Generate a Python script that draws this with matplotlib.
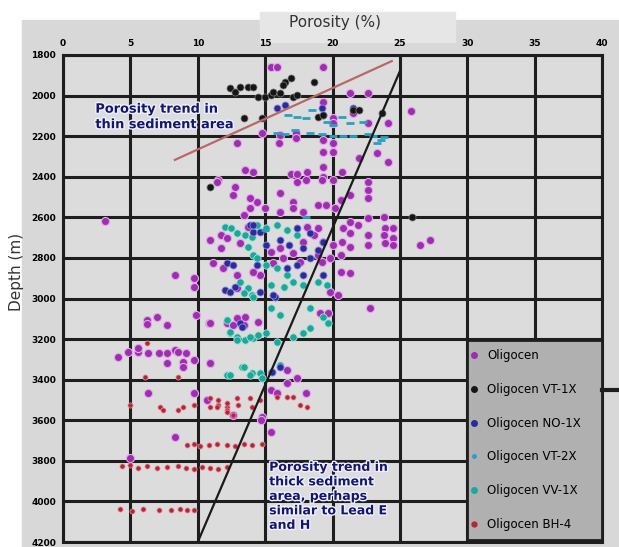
import matplotlib.pyplot as plt
import matplotlib.patheffects as pe
from matplotlib.lines import Line2D
from matplotlib.patches import Rectangle

# porosity (%) / depth (m) pairs
oligocen = [
    (15.4, 1859), (15.9, 1859), (19.3, 1859), (21.3, 1987), (22.6, 1987), (19.3, 2031),
    (20.0, 2110), (20.0, 2135), (21.5, 2086), (22.6, 2135), (24.1, 2135), (25.8, 2076),
    (14.8, 2184), (16.1, 2194), (16.0, 2233), (17.3, 2184), (17.3, 2209), (19.3, 2219),
    (20.0, 2233), (19.3, 2278), (20.0, 2278), (12.9, 2233), (22.0, 2307), (23.3, 2283),
    (24.1, 2327), (19.3, 2352), (13.5, 2367), (14.1, 2376), (16.9, 2386), (17.4, 2386),
    (18.1, 2376), (19.3, 2401), (20.7, 2376), (11.5, 2416),
    (16.1, 2480), (17.4, 2426), (18.0, 2416), (19.2, 2416), (20.0, 2416), (22.6, 2426),
    (22.6, 2465), (22.6, 2504), (20.6, 2514), (21.3, 2490), (18.9, 2539), (19.5, 2539),
    (20.2, 2554), (14.4, 2524), (15.0, 2554), (16.1, 2573), (17.1, 2524), (17.1, 2554),
    (17.8, 2573), (21.3, 2622), (21.9, 2637), (22.6, 2603), (23.8, 2598), (23.9, 2652),
    (24.5, 2652), (23.8, 2687), (24.5, 2701), (22.6, 2687), (22.6, 2736), (23.9, 2726),
    (24.5, 2736), (26.5, 2736), (27.2, 2711),
    (20.8, 2652), (21.3, 2677), (20.7, 2721), (21.3, 2746), (20.6, 2785), (20.0, 2736),
    (19.3, 2721), (18.6, 2687), (18.1, 2647), (18.9, 2652), (17.8, 2721), (15.4, 2770),
    (16.1, 2751), (16.3, 2800), (15.6, 2824), (17.1, 2775), (17.6, 2820), (18.9, 2785),
    (19.2, 2820), (19.8, 2800), (20.6, 2869), (21.3, 2874), (14.1, 2869), (14.6, 2884),
    (19.8, 2967), (20.4, 2982),
    (11.4, 2426), (12.8, 2450), (12.6, 2490), (13.9, 2504), (13.9, 2554), (13.4, 2588),
    (13.7, 2647), (3.1, 2618), (10.9, 2711), (11.7, 2687), (12.2, 2701), (11.7, 2751),
    (13.1, 2726), (11.1, 2824), (11.9, 2849), (12.9, 2884), (14.1, 2869), (8.3, 2884),
    (9.7, 2898), (9.7, 2943), (12.9, 2948),
    (6.2, 3105), (7.0, 3090), (7.7, 3130), (6.2, 3125), (9.9, 3081), (10.8, 3120),
    (12.2, 3120), (12.6, 3130), (13.3, 3115), (13.5, 3090), (4.1, 3288), (4.8, 3263),
    (5.6, 3263), (6.3, 3268), (7.1, 3268), (7.7, 3268), (8.3, 3253), (8.5, 3263),
    (9.1, 3268), (5.6, 3243), (7.7, 3317), (8.9, 3312), (8.9, 3337), (9.7, 3302),
    (10.9, 3317), (6.3, 3465), (9.7, 3465), (12.6, 3574),
    (10.9, 3120), (13.4, 3130), (12.9, 3095), (14.5, 3115), (19.1, 3071), (19.7, 3071),
    (22.8, 3046), (10.9, 3317), (16.6, 3352), (17.4, 3391), (16.6, 3416), (15.4, 3450),
    (15.9, 3465), (18.0, 3465), (10.7, 3500), (14.8, 3583), (14.7, 3598), (15.4, 3657),
    (8.3, 3682), (5.0, 3785),
]
vt1x = [
    (12.4, 1963), (12.8, 1982), (13.1, 1958), (13.7, 1958), (14.1, 1958), (14.5, 2007),
    (15.0, 2007), (15.4, 1997), (15.6, 1982), (16.1, 1987), (16.5, 1933), (16.9, 1913),
    (16.3, 1948), (17.1, 2007), (17.4, 1997), (18.6, 1933), (13.4, 2110), (14.8, 2110),
    (18.9, 2105), (19.3, 2096), (21.5, 2071), (23.7, 2086), (22.0, 2071), (25.9, 2598),
    (10.9, 2450),
]
no1x = [
    (15.9, 2061), (16.5, 2046), (19.2, 2061), (19.3, 2096), (21.5, 2061),
    (13.9, 2637), (14.1, 2672), (12.2, 2824), (12.6, 2834), (12.0, 2957), (12.4, 2967),
    (12.8, 2943), (14.1, 2637), (14.6, 2672), (16.1, 2711), (17.4, 2652), (18.3, 2677),
    (19.3, 2721), (15.1, 2736), (16.8, 2736), (17.8, 2751), (18.9, 2760), (14.4, 2834),
    (17.4, 2834), (18.3, 2800), (16.6, 2849), (17.8, 2884), (19.3, 2884), (14.6, 2967),
    (13.1, 3120), (13.3, 3140), (15.7, 2992), (15.6, 2982), (16.1, 3337), (15.5, 3361),
]
vt2x = [
    (16.7, 2096), (17.4, 2105), (18.0, 2110), (18.5, 2071), (19.6, 2130), (20.0, 2145),
    (20.7, 2105), (21.3, 2135), (22.3, 2130), (15.9, 2184), (16.5, 2189), (17.2, 2169),
    (18.3, 2184), (19.2, 2189), (20.0, 2199), (20.8, 2199), (21.5, 2199), (22.6, 2189),
    (23.0, 2199), (23.6, 2219), (23.3, 2233), (23.8, 2204), (15.0, 2660), (18.0, 2600),
]
vv1x = [
    (12.0, 2647), (12.5, 2652), (12.9, 2677), (13.5, 2687), (14.0, 2696), (13.7, 2746),
    (14.1, 2785), (13.1, 2918), (13.7, 2948), (14.0, 2982),
    (14.4, 2637), (15.1, 2652), (15.9, 2637), (16.6, 2662), (17.4, 2687), (14.4, 2800),
    (15.1, 2834), (15.9, 2849), (16.6, 2884), (17.1, 2918), (17.8, 2933), (18.9, 2918),
    (19.6, 2933), (15.4, 2933), (16.4, 2943),
    (12.2, 3105), (12.4, 3169), (12.9, 3189), (13.5, 3204), (14.1, 3194), (12.2, 3376),
    (13.3, 3337), (14.0, 3366),
    (13.4, 2972), (14.1, 2992), (15.4, 3046), (16.1, 3081), (18.3, 3046), (19.3, 3090),
    (19.7, 3120), (12.4, 3164), (12.9, 3204), (13.9, 3189), (14.5, 3179), (15.1, 3169),
    (15.9, 3214), (17.1, 3189), (17.8, 3169), (18.3, 3145), (13.4, 3337), (13.9, 3376),
    (12.4, 3376), (14.6, 3366), (15.4, 3361), (16.1, 3327), (14.8, 3391),
]
bh4 = [
    (9.2, 3721), (9.7, 3716), (10.2, 3726), (10.8, 3721), (11.4, 3716), (12.2, 3721),
    (12.8, 3726), (13.4, 3716), (14.0, 3721), (14.8, 3716),
    (4.4, 3825), (5.0, 3820), (5.6, 3835), (6.2, 3825), (7.0, 3835), (7.7, 3830),
    (8.5, 3825), (9.1, 3835), (9.7, 3840), (10.3, 3830), (10.9, 3835), (11.5, 3840),
    (12.2, 3830),
    (4.2, 4036), (5.1, 4046), (5.9, 4036), (7.1, 4041), (8.0, 4041), (8.7, 4036),
    (9.2, 4041), (9.7, 4041),
    (7.2, 3534), (7.4, 3550), (8.9, 3534), (9.7, 3524), (10.9, 3534), (11.5, 3524),
    (12.2, 3534), (13.0, 3524), (14.0, 3534), (8.5, 3550), (12.2, 3550), (12.6, 3575),
    (10.9, 3490), (11.5, 3500), (12.2, 3514), (12.9, 3490), (13.9, 3490), (14.6, 3500),
    (15.9, 3485), (16.6, 3485), (17.1, 3485), (17.6, 3524), (18.1, 3534), (11.4, 3534),
    (12.2, 3559), (6.2, 3219), (6.1, 3386), (8.5, 3386), (5.0, 3524),
]
thin_trend = [(8.3, 2317), (24.4, 1830)]
thick_trend = [(10.0, 4200), (25.0, 1880)]

x_ticks = [0, 5, 10, 15, 20, 25, 30, 35, 40]
y_ticks = [1800, 2000, 2200, 2400, 2600, 2800, 3000, 3200, 3400, 3600, 3800, 4000, 4200]

fig = plt.figure(figsize=(6.19, 5.47), dpi=100, facecolor='white')
fig.patches.append(Rectangle((22 / 619, 0), 1, 1 - 20 / 547, transform=fig.transFigure,
                             color='#d8d8d8', zorder=-10))
fig.patches.append(Rectangle((260 / 619, 1 - 42 / 547), 195 / 619, 30 / 547,
                             transform=fig.transFigure, color='#e6e6e6', zorder=-9))

ax = fig.add_axes([63 / 619, 5 / 547, 539 / 619, 487 / 547])
ax.set_facecolor('#dcdcdc')
ax.set_axisbelow(True)
ax.set_xlim(0, 40)
ax.set_ylim(4200, 1800)
ax.set_xticks(x_ticks)
ax.set_yticks(y_ticks)
ax.xaxis.tick_top()
ax.tick_params(length=0, labelsize=6.5, pad=5)
for lab in ax.get_xticklabels() + ax.get_yticklabels():
    lab.set_fontweight('bold')
ax.grid(True, color='#1e1e1e', lw=2.2)
for s in ax.spines.values():
    s.set_color('#1e1e1e')
    s.set_linewidth(2.2)


def pts(data):
    return [p[0] for p in data], [p[1] for p in data]


x, y = pts(oligocen)
ax.scatter(x, y, s=34, color='#9c2fb0', edgecolor='#e4a8e8', lw=0.8, zorder=3)
x, y = pts(vv1x)
ax.scatter(x, y, s=28, color='#1aa898', edgecolor='#a8e0d8', lw=0.6, zorder=3)
x, y = pts(no1x)
ax.scatter(x, y, s=26, color='#2b2b9b', edgecolor='#9090d8', lw=0.6, zorder=4)
x, y = pts(vt2x)
ax.scatter(x, y, s=30, marker='_', color='#2aa0c0', lw=2, zorder=4)
x, y = pts(bh4)
ax.scatter(x, y, s=14, color='#b52535', edgecolor='#e8a0a8', lw=0.5, zorder=3)
x, y = pts(vt1x)
ax.scatter(x, y, s=26, color='#151515', edgecolor='#808080', lw=0.5, zorder=4)

x, y = pts(thin_trend)
ax.plot(x, y, color='#b86868', lw=1.6, zorder=5)
x, y = pts(thick_trend)
ax.plot(x, y, color='#1a1a1a', lw=1.6, zorder=5)

halo = [pe.withStroke(linewidth=2, foreground='#eef0ff')]
ax.text(2.4, 2035, 'Porosity trend in\nthin sediment area', color='#15156e',
        fontsize=9.3, fontweight='heavy', va='top', linespacing=1.25,
        path_effects=halo, zorder=6)
ax.text(15.3, 3800, 'Porosity trend in\nthick sediment\narea, perhaps\nsimilar to Lead E\nand H',
        color='#15156e', fontsize=9, fontweight='heavy', va='top', linespacing=1.15,
        path_effects=halo, zorder=6)

# legend box
ax.add_patch(Rectangle((0.75, 0.004), 0.25, 0.411, transform=ax.transAxes,
                       facecolor='#b0b0b0', edgecolor='#1e1e1e', lw=2, zorder=7))
handles = [
    Line2D([], [], ls='', marker='o', ms=4, color='#9c2fb0'),
    Line2D([], [], ls='', marker='o', ms=4, color='#151515'),
    Line2D([], [], ls='', marker='o', ms=4, color='#2b2b9b'),
    Line2D([], [], ls='', marker='o', ms=2.5, color='#2aa0c0'),
    Line2D([], [], ls='', marker='o', ms=4, color='#1aa898'),
    Line2D([], [], ls='', marker='o', ms=3.5, color='#b52535'),
]
labels = ['Oligocen', 'Oligocen VT-1X', 'Oligocen NO-1X', 'Oligocen VT-2X',
          'Oligocen VV-1X', 'Oligocen BH-4']
leg = ax.legend(handles, labels, loc='upper left', bbox_to_anchor=(0.745, 0.405),
                frameon=False, fontsize=8.5, labelspacing=1.75, handlelength=0.8,
                handletextpad=0.7, borderaxespad=0)
leg.set_zorder(8)

fig.text(335 / 619, 1 - 22 / 547, 'Porosity (%)', fontsize=11, color='#333333',
         ha='center', va='center')
fig.text(17 / 619, 1 - 272 / 547, 'Depth (m)', fontsize=11, color='#333333',
         rotation=90, ha='center', va='center')
fig.add_artist(Line2D([602 / 619, 1], [1 - 390 / 547, 1 - 390 / 547], color='#1e1e1e',
                      lw=3, transform=fig.transFigure))

fig.savefig('out.png', dpi=100, facecolor=fig.get_facecolor())
